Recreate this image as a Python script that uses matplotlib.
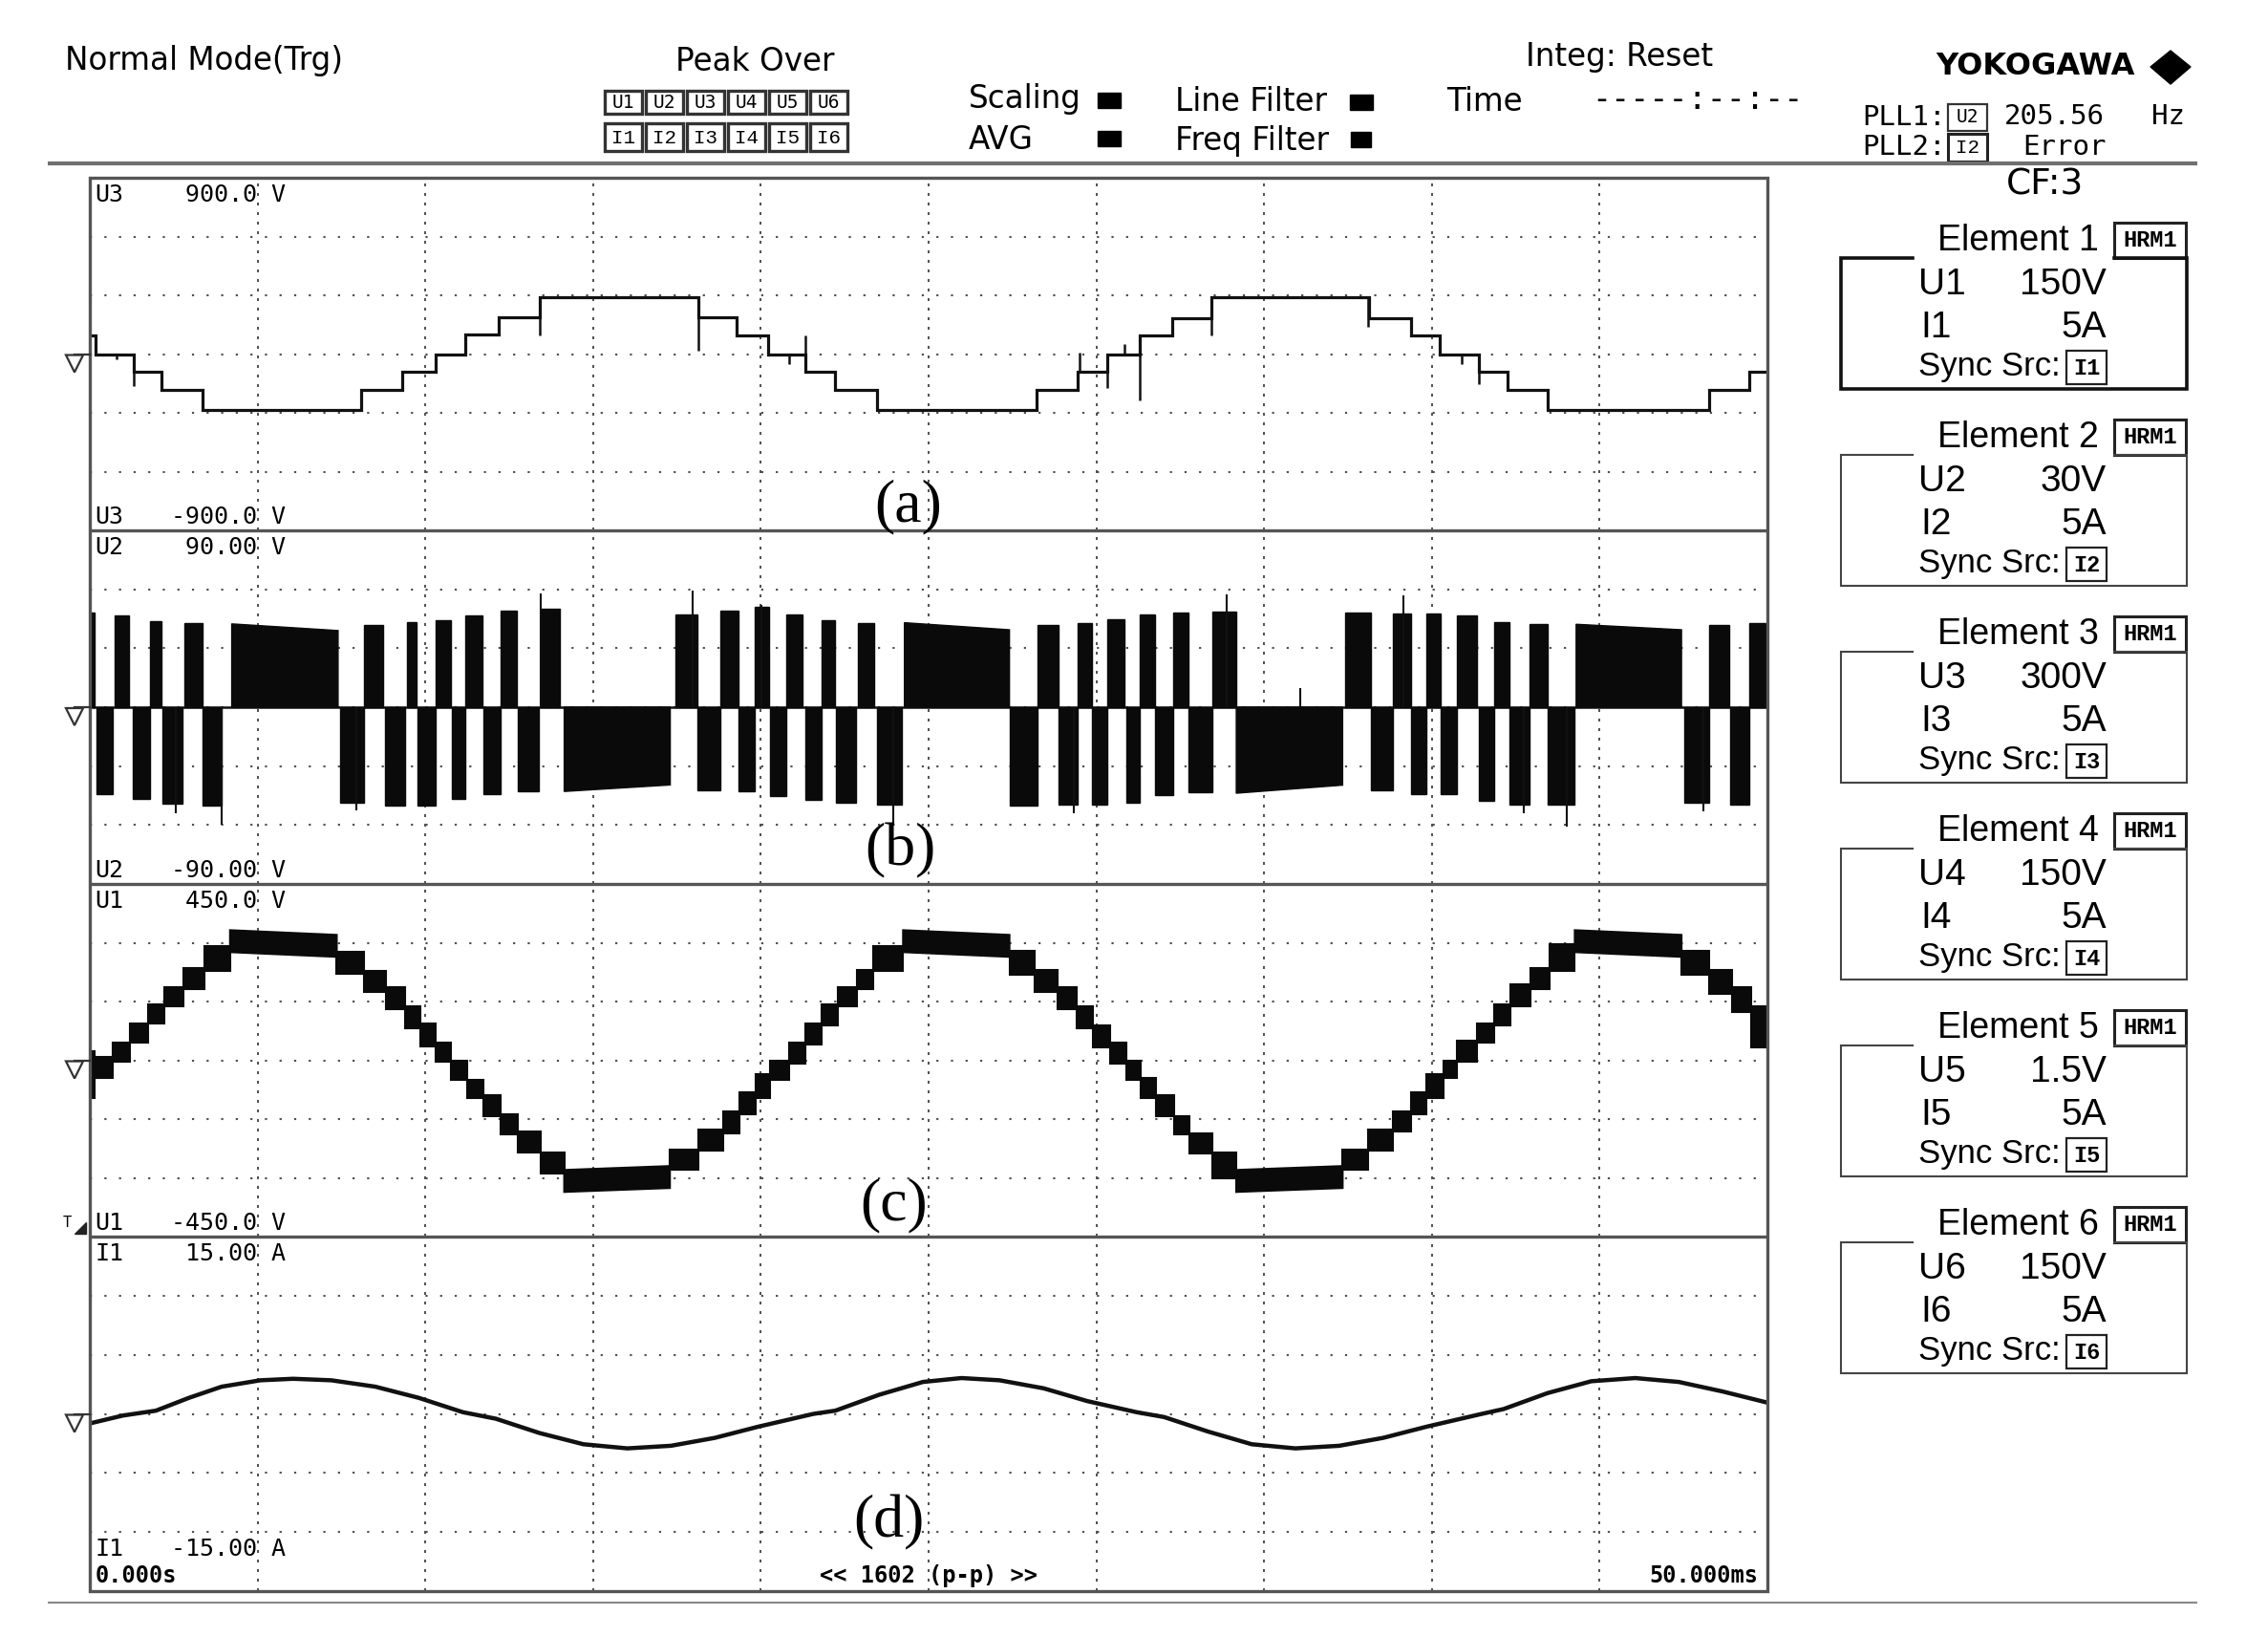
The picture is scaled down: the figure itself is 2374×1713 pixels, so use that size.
import numpy as np
import matplotlib
matplotlib.use('Agg')
import matplotlib.pyplot as plt
from matplotlib.patches import Rectangle, Polygon
import matplotlib.font_manager as fm

plt.rcParams['lines.scale_dashes'] = False
plt.rcParams['font.family'] = 'DejaVu Sans'

# ---------------- data (time in ms) ----------------
# (a) U3 staircase: step edges and levels (V)
a_edges = [0, 0.17, 1.32, 2.14, 3.36, 8.10, 9.32, 10.30, 11.20, 12.18, 13.40, 18.14, 19.28, 20.21,
           21.32, 22.22, 23.45, 28.21, 29.44, 30.33, 31.28, 32.25, 33.42, 38.12, 39.39, 40.24,
           41.40, 42.26, 43.46, 48.26, 49.47, 50.0]
a_levels = [93, 0, -90, -185, -283, -185, -90, 0, 98, 188, 292, 186, 95, 0, -90, -185, -285,
            -185, -90, 0, 95, 185, 288, 183, 93, 0, -90, -182, -284, -182, -90]
a_spike_t = [0.80, 1.32, 13.40, 18.14, 20.83, 21.32, 29.49, 30.33, 30.83, 31.28, 33.42, 38.09, 40.89, 41.39]
a_spike_v = [-25, -163, 93, 16, -49, 93, 8, -172, 49, -237, 93, 139, -49, -152]

# (b) U2 pulses: start, end, level (V)
b_t0 = [0.00, 0.20, 0.75, 1.29, 1.80, 2.17, 2.83, 3.36, 4.23, 7.45, 8.18, 8.80, 9.44, 9.77, 10.31,
        10.80, 11.20, 11.74, 12.23, 12.76, 13.44, 14.14, 17.46, 18.11, 18.80, 19.34, 19.81, 20.27,
        20.76, 21.33, 21.82, 22.23, 22.88, 23.45, 24.28, 27.41, 28.24, 28.88, 29.44, 29.88, 30.33,
        30.88, 31.28, 31.75, 32.28, 32.75, 33.45, 34.17, 37.42, 38.17, 38.84, 39.39, 39.84, 40.26,
        40.76, 41.39, 41.85, 42.30, 42.90, 43.46, 44.30, 47.52, 48.27, 48.89, 49.47]
b_t1 = [0.15, 0.67, 1.16, 1.78, 2.14, 2.76, 3.36, 3.94, 7.40, 8.18, 8.75, 9.41, 9.73, 10.31, 10.76,
        11.20, 11.69, 12.23, 12.72, 13.38, 14.01, 17.30, 18.11, 18.80, 19.34, 19.81, 20.24, 20.76,
        21.25, 21.82, 22.20, 22.85, 23.37, 24.19, 27.41, 28.24, 28.86, 29.44, 29.88, 30.33, 30.83,
        31.28, 31.75, 32.28, 32.75, 33.45, 34.17, 37.34, 38.17, 38.84, 39.39, 39.84, 40.26, 40.76,
        41.34, 41.85, 42.30, 42.90, 43.46, 44.26, 47.44, 48.27, 48.85, 49.47, 49.94]
b_v = [48, -44.5, 46.8, -46.9, 44, -48.9, 42.7, -50.2, 42.4, -48.6, 42, -50.2, 43.2, -50.2, 44.3,
       -46.9, 46.9, -44.5, 49.2, -42.9, 50.2, -42.9, 47.3, -42.1, 48.9, -42.9, 51.3, -45.4, 47.3,
       -47.3, 44.3, -48.6, 42.7, -49.4, 43, -50.3, 41.7, -49.5, 43, -49.5, 45, -48.7, 47, -44.6,
       48.2, -43.3, 48.7, -43.8, 48.2, -42.2, 47.5, -44.3, 47.5, -44.3, 46.6, -47.9, 43.3, -49.5,
       42.5, -49.5, 42.2, -48.7, 41.7, -49.5, 42.7]
b_block_idx = [8, 21, 34, 47, 60]
b_block_drift = [-3.4, 3.3, -3.6, 4.1, -2.8]
b_spike_t = [13.44, 17.98, 20.02, 3.94, 2.55, 7.94, 23.94, 33.87, 39.14, 29.33, 42.73, 44.01, 48.10, 36.09]
b_spike_v = [57.8, 59.4, 52, -60, -54, -52.6, -60, 57.6, 56.8, -54, -54, -60.7, -53, 9.7]

# (c) U1 multilevel blocks: edges, lower and upper bound (V)
c_edges = [0.00, 0.15, 0.67, 1.19, 1.73, 2.22, 2.79, 3.41, 4.18, 7.36, 8.18, 8.83, 9.40, 9.84, 10.30,
           10.76, 11.25, 11.74, 12.23, 12.75, 13.44, 14.14, 17.29, 18.14, 18.87, 19.36, 19.85, 20.26,
           20.83, 21.32, 21.81, 22.30, 22.87, 23.36, 24.24, 27.41, 28.16, 28.83, 29.41, 29.91, 30.41,
           30.88, 31.33, 31.78, 32.33, 32.78, 33.45, 34.17, 37.34, 38.09, 38.84, 39.39, 39.84, 40.34,
           40.76, 41.34, 41.85, 42.35, 42.93, 43.51, 44.26, 47.44, 48.27, 48.94, 49.52, 50.00]
c_lo = [-97, -45, -4, 45, 93, 138, 182, 227, 276, 220, 174, 130, 81, 36, -4, -49, -97, -142, -190,
        -235, -288, -336, -280, -231, -186, -138, -97, -49, -8, 40, 89, 138, 182, 227, 276, 219, 174,
        130, 81, 32, -8, -49, -97, -142, -190, -239, -300, -336, -280, -231, -182, -138, -97, -45, -4,
        45, 89, 138, 182, 227, 276, 219, 170, 122, 32]
c_hi = [24, 8, 45, 93, 142, 186, 235, 292, 332, 277, 227, 186, 138, 93, 45, 0, -49, -89, -138, -182,
        -235, -280, -227, -178, -130, -81, -36, 0, 45, 93, 142, 186, 231, 292, 332, 280, 231, 186, 138,
        89, 45, 0, -45, -89, -142, -186, -235, -280, -227, -178, -130, -81, -36, 0, 49, 93, 142, 195,
        235, 296, 332, 280, 231, 186, 138]
c_block_idx = [8, 21, 34, 47, 60]
c_block_drift = [-12, 10, -12, 10, -12]

# (d) I1 current (A)
d_t = [0.0, 0.99, 1.97, 2.95, 3.93, 5.08, 6.06, 7.20, 8.51, 9.81, 11.12, 12.10, 13.40, 14.71, 16.02,
       17.32, 18.63, 19.93, 21.57, 22.22, 23.53, 24.83, 25.98, 27.12, 28.43, 29.73, 31.20, 32.02,
       33.32, 34.63, 35.93, 37.24, 38.55, 39.85, 41.49, 42.14, 43.45, 44.75, 46.06, 47.36, 48.67, 50.0]
d_i = [-0.81, -0.14, 0.27, 1.35, 2.30, 2.84, 2.97, 2.84, 2.30, 1.35, 0.14, -0.41, -1.62, -2.57, -2.92,
       -2.70, -2.03, -1.08, 0.0, 0.27, 1.62, 2.70, 3.03, 2.84, 2.16, 1.08, 0.14, -0.27, -1.49, -2.57,
       -2.92, -2.70, -2.03, -1.08, 0.0, 0.41, 1.76, 2.76, 3.03, 2.70, 1.89, 0.95]

panel_vmax = [900, 90, 450, 15]
panel_top_labels = [('U3', '900.0 V'), ('U2', '90.00 V'), ('U1', '450.0 V'), ('I1', '15.00 A')]
panel_bot_labels = [('U3', '-900.0 V'), ('U2', '-90.00 V'), ('U1', '-450.0 V'), ('I1', '-15.00 A')]
panel_letters = ['(a)', '(b)', '(c)', '(d)']

elem_u_range = ['150V', '30V', '300V', '150V', '1.5V', '150V']
elem_i_range = ['5A', '5A', '5A', '5A', '5A', '5A']

# ---------------- fonts ----------------
_names = {f.name for f in fm.fontManager.ttflist}
if 'Liberation Sans Narrow' in _names:
    NARROW = dict(family='Liberation Sans Narrow', fontsize=32)
else:
    NARROW = dict(family='Liberation Sans', fontsize=28)
MONO = 'DejaVu Sans Mono'

# ---------------- figure ----------------
W, H = 2374, 1713
fig = plt.figure(figsize=(W / 100, H / 100), dpi=100)
fig.patch.set_facecolor('white')

PX0, PX1 = 94, 1850
P_EDGES = [186, 555, 925, 1294, 1665]
GRID_C = '#505050'


def panel_ax(i, vmax):
    top, bot = P_EDGES[i], P_EDGES[i + 1]
    ax = fig.add_axes([PX0 / W, 1 - bot / H, (PX1 - PX0) / W, (bot - top) / H])
    ax.set_xlim(0, 50)
    ax.set_ylim(-vmax, vmax)
    ax.axis('off')
    for k in range(1, 10):
        ax.axvline(k * 5, color=GRID_C, lw=1.4, ls=(0, (2.2, 5.0)), zorder=1)
    for k in range(1, 6):
        ax.axhline(-vmax + k * vmax / 3, color=GRID_C, lw=1.5, ls=(0, (1.6, 9.4)), zorder=1)
    return ax


# (a)
axa = panel_ax(0, panel_vmax[0])
axa.stairs(a_levels, a_edges, baseline=None, color='#111111', lw=2.3, zorder=3)
idx = np.searchsorted(a_edges, a_spike_t, side='right') - 1
axa.vlines(a_spike_t, np.asarray(a_levels)[idx], a_spike_v, color='#111111', lw=1.8, zorder=3)

# (b)
axb = panel_ax(1, panel_vmax[1])
axb.axhline(0, color='#111111', lw=1.8, zorder=2)
b_drift = np.zeros(len(b_v))
b_drift[b_block_idx] = b_block_drift
for t0, t1, v, dv in zip(b_t0, b_t1, b_v, b_drift):
    axb.fill([t0, t0, t1, t1], [0, v, v + dv, 0], color='#0a0a0a', lw=1.0, zorder=3)
axb.vlines(b_spike_t, 0, b_spike_v, color='#111111', lw=1.5, zorder=3)

# (c)
axc = panel_ax(2, panel_vmax[2])
c_drift = np.zeros(len(c_lo))
c_drift[c_block_idx] = c_block_drift
for t0, t1, lo, hi, dv in zip(c_edges[:-1], c_edges[1:], c_lo, c_hi, c_drift):
    axc.fill([t0, t0, t1, t1], [lo, hi, hi + dv, lo + dv], color='#0a0a0a', lw=1.5, zorder=3)

# (d)
axd = panel_ax(3, panel_vmax[3])
axd.plot(d_t, d_i, color='#111111', lw=3.2, zorder=3, solid_joinstyle='round')

# ---------------- overlay (pixel coordinates) ----------------
bg = fig.add_axes([0, 0, 1, 1], zorder=10)
bg.set_xlim(0, W)
bg.set_ylim(H, 0)
bg.axis('off')

# plot frame and separators
bg.add_patch(Rectangle((PX0, P_EDGES[0]), PX1 - PX0, P_EDGES[-1] - P_EDGES[0], fill=False,
                       ec='#555555', lw=2.4))
bg.hlines(P_EDGES[1:-1], PX0, PX1, color='#555555', lw=2.4)
# header / footer rules
bg.plot([50, 2300], [171, 171], color='#707070', lw=3.0, solid_capstyle='butt')
bg.plot([50, 2300], [1677, 1677], color='#8a8a8a', lw=1.6, solid_capstyle='butt')

# header texts
HS = 23.5
bg.text(68, 63, 'Normal Mode(Trg)', fontsize=HS, va='center', ha='left')
bg.text(790, 64, 'Peak Over', fontsize=HS, va='center', ha='center')
for i in range(6):
    x0 = 633 + 43 * i
    bg.add_patch(Rectangle((x0, 95), 39, 24, fc='white', ec='#333333', lw=2.4))
    bg.text(x0 + 19.5, 107.5, f'U{i + 1}', family=MONO, fontsize=14, ha='center', va='center')
    bg.add_patch(Rectangle((x0, 129), 39, 29, fc='white', ec='#333333', lw=2.4))
    bg.text(x0 + 19.5, 144, f'I{i + 1}', family='Liberation Mono', fontsize=15, ha='center', va='center')

bg.text(1014, 104, 'Scaling', fontsize=HS, va='center')
bg.add_patch(Rectangle((1149, 97), 24, 16, color='black'))
bg.text(1014, 147, 'AVG', fontsize=HS, va='center')
bg.add_patch(Rectangle((1149, 137), 24, 16, color='black'))
bg.text(1230, 106, 'Line Filter', fontsize=HS, va='center')
bg.add_patch(Rectangle((1413, 99), 24, 16, color='black'))
bg.text(1230, 147, 'Freq Filter', fontsize=HS, va='center')
bg.add_patch(Rectangle((1414, 138), 21, 16, color='black'))
bg.text(1514, 107, 'Time', fontsize=HS, va='center')
bg.text(1597, 60, 'Integ: Reset', fontsize=HS, va='center')
bg.text(1666, 104, '-----:--:--', family=MONO, fontsize=24, va='center')

bg.text(2026, 70, 'YOKOGAWA', fontsize=23, fontweight='bold', va='center')
bg.add_patch(Polygon([(2272, 53), (2293, 70), (2272, 88), (2251, 70)], closed=True, color='black'))

bg.text(1949, 123, 'PLL1:', family=MONO, fontsize=21, va='center')
bg.add_patch(Rectangle((2039, 109), 41, 28, fc='white', ec='#333333', lw=1.6))
bg.text(2059.5, 123, 'U2', family=MONO, fontsize=14, ha='center', va='center')
bg.text(2098, 122, '205.56', family=MONO, fontsize=21, va='center')
bg.text(2287, 122, 'Hz', family=MONO, fontsize=21, va='center', ha='right')
bg.text(1949, 154, 'PLL2:', family=MONO, fontsize=21, va='center')
bg.add_patch(Rectangle((2039, 140), 41, 29, fc='white', ec='#222222', lw=2.2))
bg.text(2059.5, 154.5, 'I2', family='Liberation Mono', fontsize=15, ha='center', va='center')
bg.text(2117, 154, 'Error', family=MONO, fontsize=21, va='center')

bg.text(2141, 194, 'CF:3', fontsize=27, ha='center', va='center')

# element boxes
for k in range(6):
    ty = 252 + 206 * k
    top, bot = ty + 18, ty + 155
    lw = 2.6 if k == 0 else 1.5
    ec = '#111111' if k == 0 else '#444444'
    bg.plot([2002, 1927, 1927, 2289, 2289, 2213], [top, top, bot, bot, top, top], color=ec, lw=lw,
            solid_joinstyle='miter')
    bg.add_patch(Rectangle((2213, ty - 19), 75, 37, fill=False, ec='#222222', lw=2.2))
    bg.text(2250.5, ty, 'HRM1', family='Liberation Mono', fontweight='bold', fontsize=17,
            ha='center', va='center')
    bg.text(2028, ty, f'Element {k + 1}', family='Liberation Sans', fontsize=27, va='center')
    bg.text(2008, ty + 46, f'U{k + 1}', va='center', **NARROW)
    bg.text(2205, ty + 46, elem_u_range[k], va='center', ha='right', **NARROW)
    bg.text(2010, ty + 91, f'I{k + 1}', va='center', **NARROW)
    bg.text(2205, ty + 91, elem_i_range[k], va='center', ha='right', **NARROW)
    bg.text(2008, ty + 131, 'Sync Src:', family='Liberation Sans', fontsize=25, va='center')
    bg.add_patch(Rectangle((2163, ty + 115), 42, 35, fill=False, ec='#222222', lw=1.6))
    bg.text(2184, ty + 133, f'I{k + 1}', family='Liberation Mono', fontweight='bold', fontsize=17,
            ha='center', va='center')

# panel scale labels, markers, letters
letter_pos = [(951, 530), (942, 890), (936, 1261), (930, 1593)]
for i in range(4):
    top, bot = P_EDGES[i], P_EDGES[i + 1]
    z = (top + bot) / 2
    n, v = panel_top_labels[i]
    bg.text(99, top + 18, n, family=MONO, fontsize=18, va='center')
    bg.text(299, top + 18, v, family=MONO, fontsize=18, va='center', ha='right')
    n, v = panel_bot_labels[i]
    yb = bot - 14 if i < 3 else bot - 44
    bg.text(99, yb, n, family=MONO, fontsize=18, va='center')
    bg.text(299, yb, v, family=MONO, fontsize=18, va='center', ha='right')
    # ground marker
    bg.add_patch(Polygon([(69, z + 1), (87, z + 1), (78, z + 19)], closed=True, fill=False,
                         ec='#333333', lw=1.6))
    bg.plot([78, 94], [z, z], color='#333333', lw=1.6)
    lx, ly = letter_pos[i]
    bg.text(lx, ly, panel_letters[i], family='Liberation Serif', fontsize=46, ha='center', va='center')

# trigger marker
bg.text(66, 1279, 'T', family=MONO, fontsize=11, va='center')
bg.add_patch(Polygon([(78, 1291), (90, 1291), (90, 1279)], closed=True, color='#222222'))

# time axis labels
bg.text(100, 1649, '0.000s', family=MONO, fontsize=17, fontweight='bold', va='center')
bg.text(972, 1649, '<< 1602 (p-p) >>', family=MONO, fontsize=17, fontweight='bold', va='center', ha='center')
bg.text(1840, 1649, '50.000ms', family=MONO, fontsize=17, fontweight='bold', va='center', ha='right')

fig.savefig('out.png', dpi=100, facecolor='white')
